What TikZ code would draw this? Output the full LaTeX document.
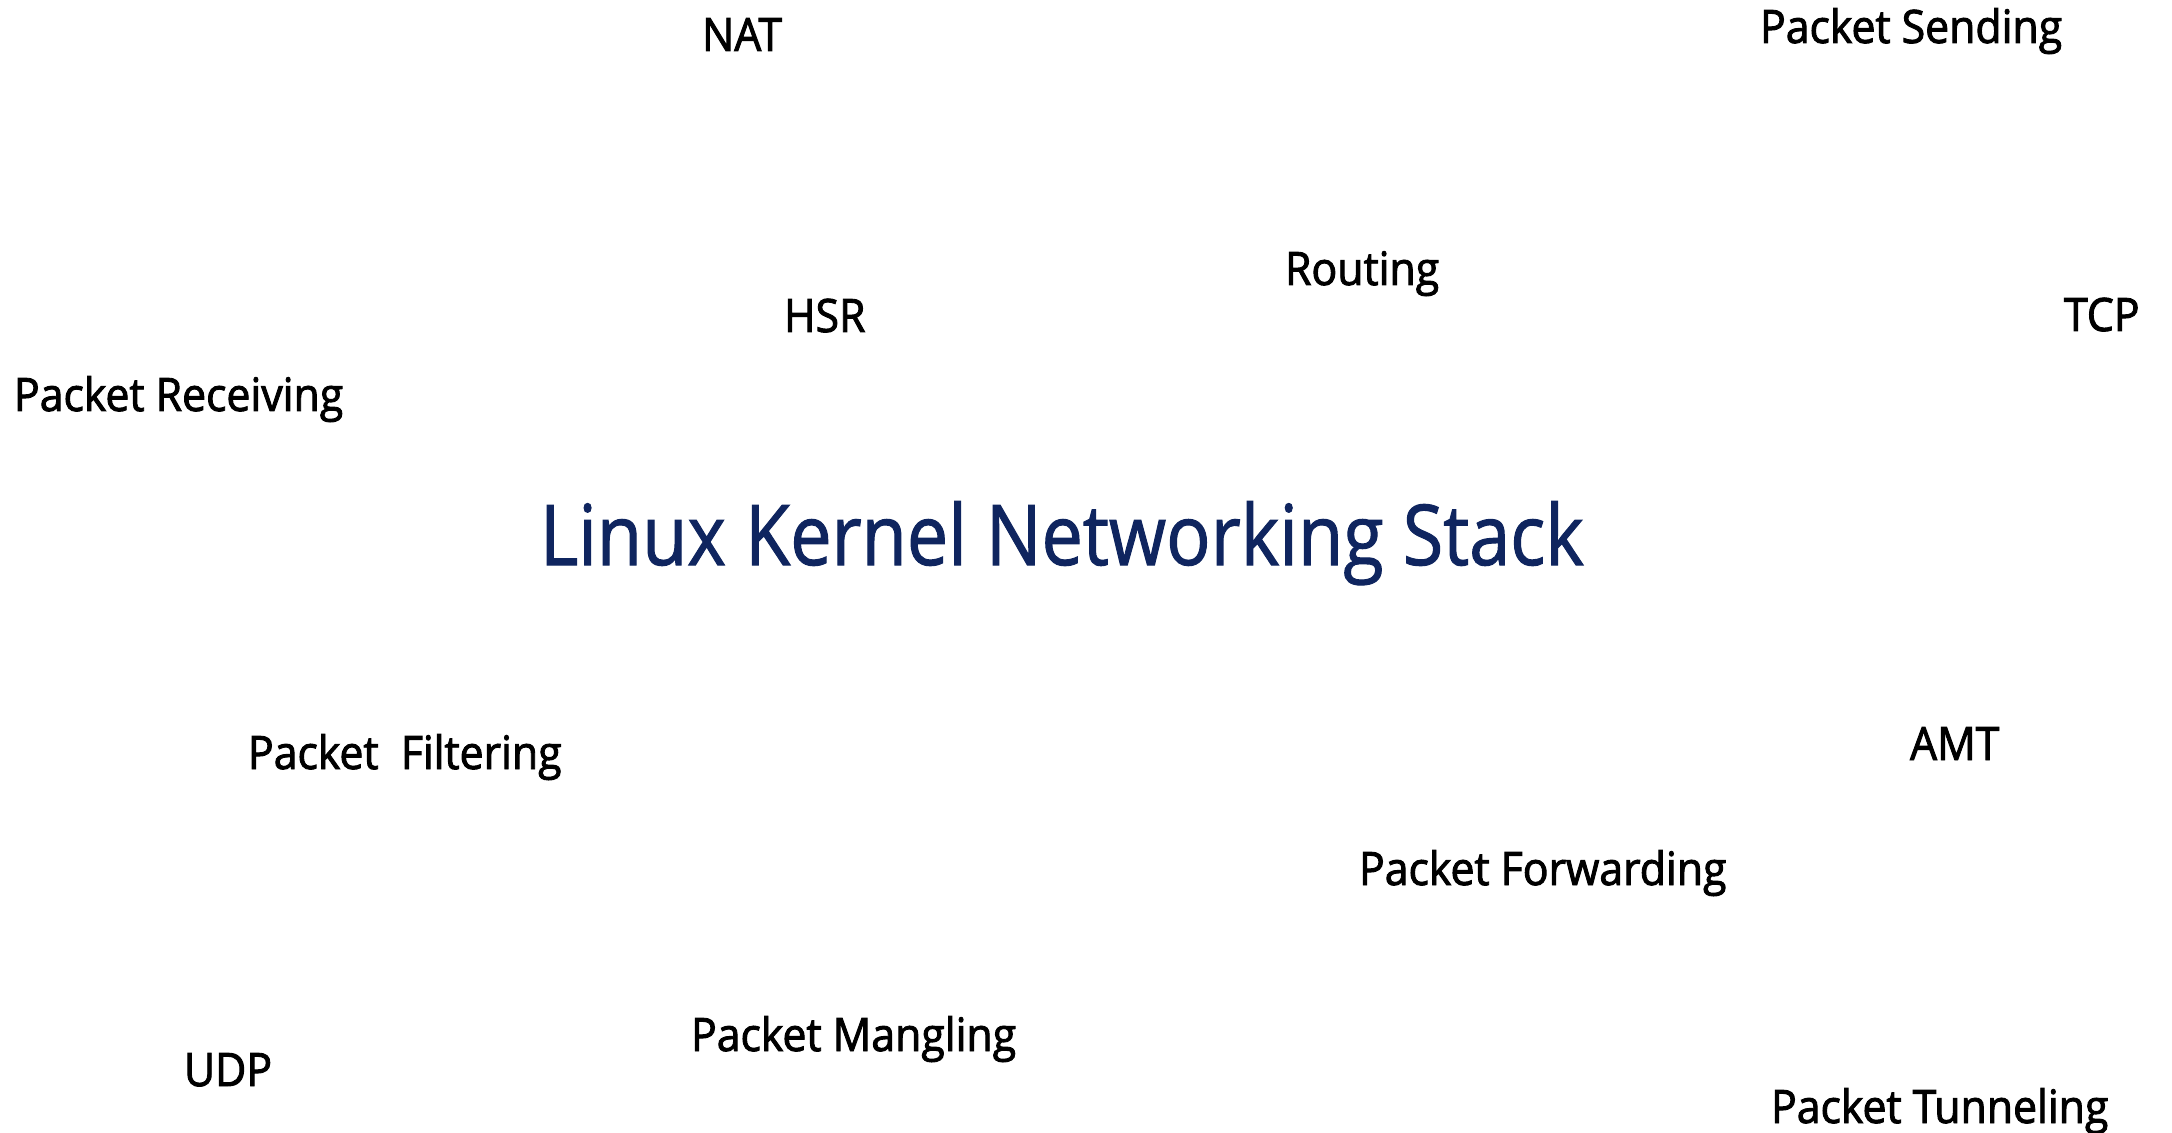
\documentclass[tikz,border=0pt]{standalone}
\usepackage{fontspec}
\setmainfont{Open Sans}[FakeStretch=0.877, FakeBold=1.2]
\newfontfamily\termfont{Open Sans}[FakeStretch=0.93, FakeBold=2]
\usepackage{tikz}
\definecolor{kernelblue}{RGB}{15,37,95}

\begin{document}
\begin{tikzpicture}[x=0.5pt, y=-0.5pt,
			term/.style={anchor=base west, inner sep=0pt, outer sep=0pt, font=\termfont\fontsize{23}{26}\selectfont, text=black},
			hub/.style={anchor=base west, inner sep=0pt, outer sep=0pt, font=\fontsize{42}{48}\selectfont, text=kernelblue}]
			% Bildbereich
			\useasboundingbox (0,0) rectangle (2172,1133);
			% Mitte
			\node[hub] (stack) at (540,565) {Linux Kernel Networking Stack};
			% Begriffe oben
			\node[term] (nat) at (702,51) {NAT};
			\node[term] (sending) at (1760,43) {Packet Sending};
			\node[term] (routing) at (1285,285) {Routing};
			\node[term] (hsr) at (784,332) {HSR};
			\node[term] (tcp) at (2064,331) {TCP};
			\node[term] (receiving) at (14,411) {Packet Receiving};
			% Begriffe unten
			\node[term] (filtering) at (248,769) {Packet\ \ Filtering};
			\node[term] (amt) at (1910,760) {AMT};
			\node[term] (forwarding) at (1359,885) {Packet Forwarding};
			\node[term] (mangling) at (691,1051) {Packet Mangling};
			\node[term] (udp) at (184,1086) {UDP};
			\node[term] (tunneling) at (1771,1123) {Packet Tunneling};
		\end{tikzpicture}
\end{document}
